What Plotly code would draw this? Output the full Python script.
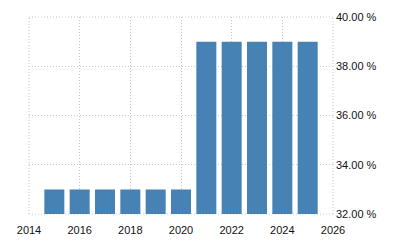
import plotly.graph_objects as go

years = [2015, 2016, 2017, 2018, 2019, 2020, 2021, 2022, 2023, 2024, 2025]
rates = [33, 33, 33, 33, 33, 33, 39, 39, 39, 39, 39]
x_ticks = [2014, 2016, 2018, 2020, 2022, 2024, 2026]
y_ticks = [32, 34, 36, 38, 40]

fig = go.Figure(go.Bar(x=years, y=rates, marker_color="#4682B4", marker_line_width=0, width=0.79))

GRID_COLOR = "#c8c8c8"
DASH = "1px,2px"

fig.update_layout(
    width=400, height=250,
    margin=dict(l=29, r=67, t=17, b=36),
    paper_bgcolor="white", plot_bgcolor="white",
    font=dict(family="Liberation Sans, Arial, sans-serif", size=11, color="#111111"),
    showlegend=False,
)
grid = dict(showgrid=True, gridcolor=GRID_COLOR, griddash=DASH, gridwidth=1,
            zeroline=False, showline=False, ticks="")
fig.update_xaxes(
    range=[2014, 2026], tickvals=x_ticks, ticktext=[str(t) for t in x_ticks],
    ticklabelstandoff=8, **grid,
)
fig.update_yaxes(
    range=[32, 40], tickvals=y_ticks, ticktext=[f"{v:.2f} %" for v in y_ticks],
    side="right", ticklabelstandoff=2, **grid,
)

# plot-area border drawn in the same dotted grid style
border = dict(color=GRID_COLOR, width=1, dash=DASH)
for x0, y0, x1, y1 in [(0, 0, 1, 0), (0, 1, 1, 1), (0, 0, 0, 1), (1, 0, 1, 1)]:
    fig.add_shape(type="line", xref="paper", yref="paper", x0=x0, y0=y0, x1=x1, y1=y1,
                  line=border, layer="below")

fig.write_html("out.html")
